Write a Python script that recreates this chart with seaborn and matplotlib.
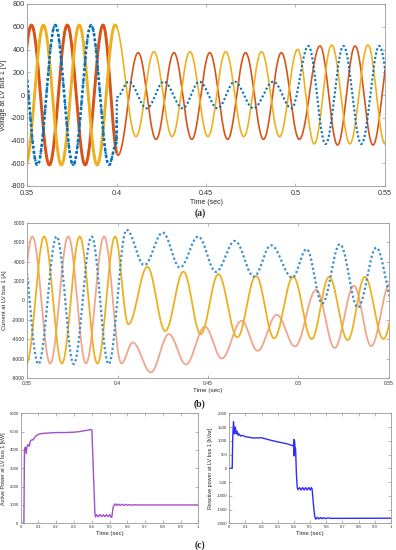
import numpy as np
import matplotlib
matplotlib.use("Agg")
import matplotlib.pyplot as plt
import seaborn as sns

# ---------------- data (extrema) ----------------
# (a) voltage at LV bus 1 [V]
va_t = [0.3425, 0.3525, 0.3625, 0.3725, 0.3825, 0.3925, 0.4008, 0.4121, 0.4221, 0.4321, 0.4421,
        0.4521, 0.4621, 0.4721, 0.4821, 0.4921, 0.5021, 0.5137, 0.5235, 0.5333, 0.5433, 0.5533]
va_v = [-615, 615, -615, 615, -615, 615, -530, 372, -390, 372, -390,
        372, -390, 372, -390, 372, -390, 431, -440, 431, -440, 431]
vb_t = [0.3392, 0.3492, 0.3592, 0.3692, 0.3792, 0.3892, 0.3992, 0.4109, 0.4209, 0.4311, 0.4410,
        0.4511, 0.4610, 0.4711, 0.4810, 0.4911, 0.5012, 0.5105, 0.5202, 0.5304, 0.5405, 0.5500, 0.5600]
vb_v = [615, -615, 615, -615, 615, -615, 615, -366, 381, -366, 381,
        -366, 381, -366, 381, -366, 400, -430, 440, -430, 440, -430, 440]
vc_t = [0.3458, 0.3558, 0.3658, 0.3758, 0.3858, 0.3958, 0.4000, 0.4002, 0.4068, 0.4169, 0.4265,
        0.4370, 0.4463, 0.4565, 0.4660, 0.4765, 0.4876, 0.4978, 0.5072, 0.5168, 0.5268, 0.5368, 0.5468, 0.5568]
vc_v = [615, -615, 615, -615, 615, -615, -420, -20, 117, -117, 117,
        -117, 117, -117, 117, -117, 117, -117, 431, -431, 431, -431, 431, -431]

# (b) current at LV bus 1 [A]
ia_t = [0.3432, 0.3530, 0.3628, 0.3728, 0.3826, 0.3926, 0.4022, 0.4084, 0.4184, 0.4284, 0.4378,
        0.4483, 0.4576, 0.4686, 0.4774, 0.4880, 0.4981, 0.5098, 0.5200, 0.5306, 0.5402, 0.5505]
ia_v = [-6500, 6600, -6500, 6600, -6500, 6600, -6500, -4330, -7420, -3470, -6600,
        -2710, -5980, -2100, -5190, -1470, -4740, 1100, -4900, 1520, -4700, 1700]
ib_t = [0.3399, 0.3497, 0.3595, 0.3693, 0.3791, 0.3889, 0.3987, 0.4060, 0.4165, 0.4264, 0.4364,
        0.4460, 0.4557, 0.4662, 0.4765, 0.4865, 0.4971, 0.5073, 0.5169, 0.5272, 0.5367, 0.5469, 0.5567]
ib_v = [6600, -6500, 6600, -6500, 6600, -6500, 6600, -2450, 3480, -3150, 2980,
        -3470, 2720, -3800, 2550, -3900, 2440, -3980, 2440, -4080, 2440, -3980, 2440]
ic_t = [0.3465, 0.3563, 0.3664, 0.3758, 0.3857, 0.3951, 0.4050, 0.4148, 0.4250, 0.4345, 0.4446,
        0.4544, 0.4649, 0.4754, 0.4848, 0.4966, 0.5045, 0.5131, 0.5229, 0.5328, 0.5430, 0.5530]
ic_v = [6600, -6560, 6600, -6560, 6600, -6560, 7290, 3650, 7010, 3400, 6600,
        2960, 6150, 2470, 5700, 2370, 5300, -300, 5810, -720, 5450, -600]

# (c) active power [kW]
p_t = [0, 0.018, 0.021, 0.026, 0.031, 0.036, 0.042, 0.048, 0.055, 0.062, 0.07, 0.08, 0.09, 0.1,
       0.12, 0.15, 0.2, 0.25, 0.3, 0.33, 0.36, 0.38, 0.395, 0.401, 0.41, 0.418, 0.421,
       0.4265, 0.436, 0.4455, 0.455, 0.4645, 0.474, 0.4835, 0.493, 0.5025, 0.509, 0.513,
       0.52, 0.526, 0.533, 0.54, 0.55, 0.56, 0.57, 0.58, 0.59, 0.6, 0.61, 0.62, 0.64, 0.66, 1.0]
p_v = [0, 0, 4000, 4150, 3800, 4200, 4300, 4200, 4500, 4550, 4550, 4700, 4800, 4850,
       4900, 4920, 4950, 4950, 4970, 5000, 5050, 5080, 5120, 5080, 2600, 500, 350,
       470, 360, 470, 360, 470, 360, 470, 360, 470, 330, 330,
       850, 1000, 1060, 960, 1050, 970, 1040, 975, 1030, 980, 1020, 990, 1010, 1000, 1000]
# (c) reactive power [kVar]
q_t = [0, 0.018, 0.021, 0.026, 0.031, 0.037, 0.043, 0.048, 0.055, 0.06, 0.07, 0.08, 0.1, 0.15,
       0.2, 0.25, 0.3, 0.35, 0.39, 0.397, 0.399, 0.401, 0.403, 0.406, 0.41, 0.415, 0.42, 0.425,
       0.4345, 0.444, 0.4535, 0.463, 0.4725, 0.482, 0.4915, 0.501, 0.507, 0.512, 0.52, 0.528,
       0.535, 0.545, 0.555, 0.565, 0.575, 0.585, 0.595, 0.61, 0.63, 1.0]
q_v = [0, 0, 1100, 1700, 1250, 1500, 1250, 1350, 1200, 1250, 1170, 1200, 1150, 1100,
       1110, 1030, 960, 900, 830, 800, 1050, 450, 1000, 780, 700, -200, -700, -780,
       -700, -790, -700, -790, -700, -790, -700, -790, -700, -750, -1300, -1750,
       -1850, -1780, -1840, -1790, -1835, -1795, -1830, -1805, -1820, -1815]

time_ticks = [0.35, 0.4, 0.45, 0.5, 0.55]
time_labels = ["0.35", "0.4", "0.45", "0.5", "0.55"]

RED, YEL, BLU = "#D95319", "#EDB120", "#0072BD"
SALMON, BLU2 = "#F2A58C", "#3A8FD0"


def wave(te, ve, n=30):
    ts, vs = [], []
    for i in range(len(te) - 1):
        s = np.linspace(0, 1, n, endpoint=False)
        ts.append(te[i] + (te[i + 1] - te[i]) * s)
        vs.append(ve[i] + (ve[i + 1] - ve[i]) * (1 - np.cos(np.pi * s)) / 2)
    ts.append([te[-1]]); vs.append([ve[-1]])
    return np.concatenate(ts), np.concatenate(vs)


sns.set_style("white", rc={"xtick.direction": "in", "ytick.direction": "in",
                           "xtick.top": True, "ytick.right": True,
                           "xtick.bottom": True, "ytick.left": True})
plt.rcParams['font.family'] = ['Liberation Sans', 'DejaVu Sans']
plt.rcParams['axes.unicode_minus'] = False

W, H = 396, 550
fig = plt.figure(figsize=(W / 100, H / 100), dpi=100)


def box(l, t, r, b):
    return fig.add_axes([l / W, 1 - b / H, (r - l) / W, (b - t) / H])


def style(ax, fs, xpad=1.5):
    for s in ax.spines.values():
        s.set_color("#9a9a9a"); s.set_linewidth(0.6)
    ax.tick_params(labelsize=fs, length=2.5, width=0.5, colors="#9a9a9a",
                   labelcolor="#333333", pad=1.5, top=True, right=True)
    ax.tick_params(axis="x", pad=xpad)


def line(ax, t, v, color, lw, ls="-"):
    sns.lineplot(x=t, y=v, ax=ax, color=color, lw=lw, linestyle=ls,
                 estimator=None, sort=False)


dot = (0, (1, 1.1))

# ---- (a) ----
axa = box(27, 4, 385, 186)
for te, ve, c, ls in [(va_t, va_v, RED, "-"), (vb_t, vb_v, YEL, "-"), (vc_t, vc_v, BLU, dot)]:
    t, v = wave(te, ve)
    line(axa, t, v, c, 1.2 if ls == "-" else 1.5, ls)
    m = t <= 0.4001
    line(axa, t[m], v[m], c, 2.1 if ls == "-" else 1.9, ls)
axa.set_xlim(0.35, 0.55); axa.set_ylim(-800, 800)
axa.set_xticks(time_ticks); axa.set_xticklabels(time_labels)
axa.set_yticks(np.arange(-800, 801, 200))
style(axa, 5.2, xpad=3)
axa.set_xlabel("Time (sec)", fontsize=5, labelpad=1)
axa.set_ylabel("Voltage at LV bus 1 [V]", fontsize=5)
axa.yaxis.set_label_coords(-0.057, 0.5)

# ---- (b) ----
axb = box(27, 223, 389, 378)
for te, ve, c, ls in [(ia_t, ia_v, SALMON, "-"), (ib_t, ib_v, YEL, "-"), (ic_t, ic_v, BLU2, dot)]:
    t, v = wave(te, ve)
    line(axb, t, v, c, 1.3 if ls == "-" else 1.6, ls)
axb.set_xlim(0.35, 0.55); axb.set_ylim(-8000, 8000)
axb.set_xticks(time_ticks); axb.set_xticklabels(time_labels)
axb.set_yticks(np.arange(-8000, 8001, 2000))
style(axb, 3.6, xpad=2)
axb.set_xlabel("Time (sec)", fontsize=4.5, labelpad=1.5)
axb.set_ylabel("Current at LV bus 1 [A]", fontsize=4.2)
axb.yaxis.set_label_coords(-0.056, 0.5)

# ---- (c) ----
xt = np.round(np.arange(0, 1.01, 0.1), 1)
xtl = ["0"] + [f"{x:g}" for x in xt[1:-1]] + ["1"]
axc1 = box(20.7, 413.3, 198.3, 523.3)
line(axc1, np.array(p_t), np.array(p_v), "#A24FC8", 1.0)
axc1.set_xlim(0, 1); axc1.set_ylim(0, 6000)
axc1.set_xticks(xt); axc1.set_xticklabels(xtl)
axc1.set_yticks(np.arange(0, 6001, 1000))
style(axc1, 3.1)
axc1.set_xlabel("Time (sec)", fontsize=4.2, labelpad=1)
axc1.set_ylabel("Active Power at LV bus 1 [kW]", fontsize=3.9)
axc1.yaxis.set_label_coords(-0.083, 0.5)

axc2 = box(229.3, 413.3, 391, 523.3)
line(axc2, np.array(q_t), np.array(q_v), "#2E2EF5", 1.0)
axc2.set_xlim(0, 1); axc2.set_ylim(-2000, 2000)
axc2.set_xticks(xt); axc2.set_xticklabels(xtl)
axc2.set_yticks(np.arange(-2000, 2001, 500))
style(axc2, 3.1)
axc2.set_xlabel("Time (sec)", fontsize=4.2, labelpad=1)
axc2.set_ylabel("Reactive power at LV bus 1 [kVar]", fontsize=3.9)
axc2.yaxis.set_label_coords(-0.099, 0.5)

for lab, y in [("(a)", 213), ("(b)", 404), ("(c)", 545)]:
    fig.text(200 / W, 1 - y / H, lab, ha="center", va="center", fontsize=7,
             fontweight="bold", family="Liberation Serif")

fig.savefig("out.png", dpi=100)
